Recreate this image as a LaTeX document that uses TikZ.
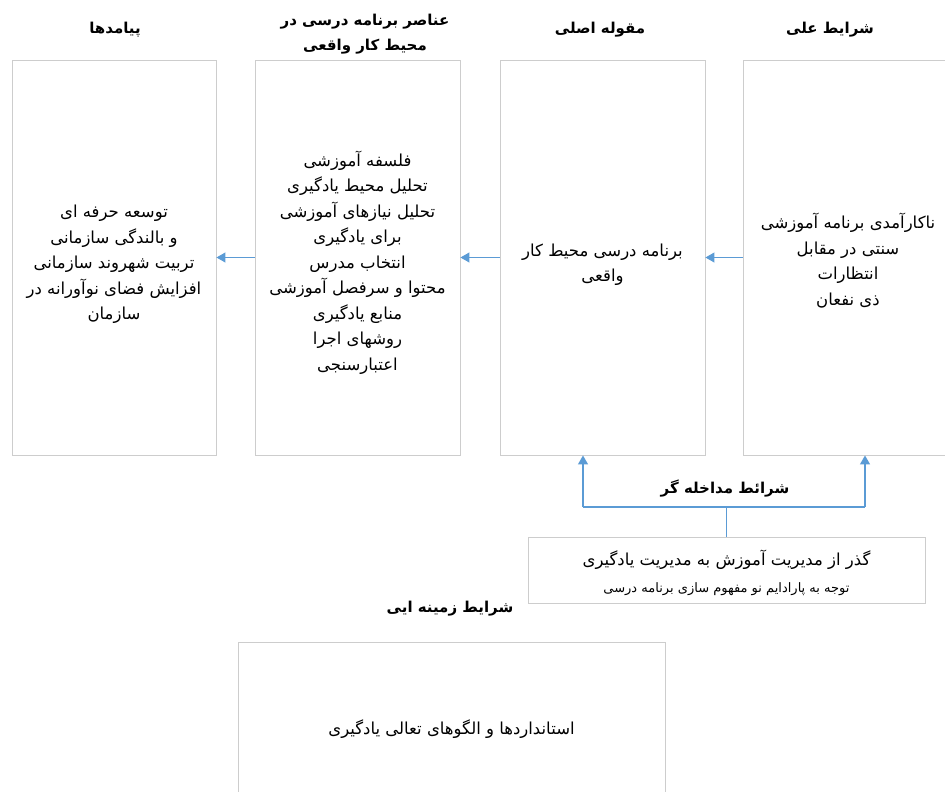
\documentclass[tikz,border=0pt]{standalone}
\usepackage{fontspec}
\usetikzlibrary{arrows.meta}
\TeXXeTstate=1
\newfontfamily\arabicfont[Script=Arabic]{DejaVu Sans}
\newcommand{\fa}[1]{{\arabicfont\beginR #1\endR}}
\definecolor{lineblue}{RGB}{91,155,213}
\definecolor{boxgray}{RGB}{205,205,205}
\tikzset{
  box/.style={draw=boxgray, line width=0.9pt, fill=white, inner sep=0pt},
  boxtext/.style={inner sep=0pt, align=center, font=\arabicfont\fontsize{16.5}{25.5}\selectfont},
  title/.style={font=\arabicfont\bfseries\fontsize{15}{25}\selectfont, align=center, inner sep=0pt},
  conn/.style={draw=lineblue, line width=1.2pt},
  arr/.style={conn, -{Triangle[width=10pt,length=9pt]}},
}
\begin{document}
\begin{tikzpicture}[x=1pt,y=-1pt]
\useasboundingbox (0,0) rectangle (945,792);
% main boxes
\node[box, minimum width=204, minimum height=395] (b1) at (114,257.5) {};
\node[box, minimum width=205, minimum height=395] (b2) at (357.5,257.5) {};
\node[box, minimum width=205, minimum height=395] (b3) at (602.5,257.5) {};
\node[box, minimum width=210, minimum height=395] (b4) at (848,257.5) {};
\node[boxtext] (b1t) at ([yshift=-7pt]b1.center)
  {\fa{توسعه حرفه ای}\\\fa{و بالندگی سازمانی}\\\fa{تربیت شهروند سازمانی}\\\fa{افزایش فضای نوآورانه در}\\\fa{سازمان}};
\node[boxtext] (b2t) at ([yshift=-5pt]b2.center)
  {\fa{فلسفه آموزشی}\\\fa{تحلیل محیط یادگیری}\\\fa{تحلیل نیازهای آموزشی}\\\fa{برای یادگیری}\\\fa{انتخاب مدرس}\\\fa{محتوا و سرفصل آموزشی}\\\fa{منابع یادگیری}\\\fa{روشهای اجرا}\\\fa{اعتبارسنجی}};
\node[boxtext] (b3t) at ([yshift=-7pt]b3.center)
  {\fa{برنامه درسی محیط کار}\\\fa{واقعی}};
\node[boxtext] (b4t) at ([yshift=-3pt]b4.center)
  {\fa{ناکارآمدی برنامه آموزشی}\\\fa{سنتی در مقابل}\\\fa{انتظارات}\\\fa{ذی نفعان}};
% titles
\node[title] (t1) at (115,30) {\fa{پیامدها}};
\node[title] (t2) at (365,34) {\fa{عناصر برنامه درسی در}\\\fa{محیط کار واقعی}};
\node[title] (t3) at (600,30) {\fa{مقوله اصلی}};
\node[title] (t4) at (830,30) {\fa{شرایط علی}};
% horizontal arrows
\draw[arr] (b4.west) -- (b3.east);
\draw[arr] (b3.west) -- (b2.east);
\draw[arr] (b2.west) -- (b1.east);
% intervening conditions
\node[box, minimum width=397, minimum height=66] (low) at (726.5,570) {};
\node[boxtext] (lowt) at ([yshift=-3pt]low.center)
  {\fa{گذر از مدیریت آموزش به مدیریت یادگیری}\\[2pt]{\fontsize{13}{14}\selectfont\fa{توجه به پارادایم نو مفهوم سازی برنامه درسی}}};
\coordinate (jl) at (583,507);
\coordinate (jr) at (865,507);
\draw[conn] (jl) -- (jr);
\draw[arr] (jl) -- (b3.south -| jl);
\draw[arr] (jr) -- (b4.south -| jr);
\draw[conn] (low.north) -- (low.north |- jl);
\node[title] (mid) at (725,489) {\fa{شرائط مداخله گر}};
% contextual conditions
\node[title] (ctx) at (450,609) {\fa{شرایط زمینه ایی}};
\node[box, minimum width=427, minimum height=170] (bot) at (451.5,727) {};
\node[boxtext] (bott) at ([yshift=-2pt]bot.center) {\fa{استانداردها و الگوهای تعالی یادگیری}};
\end{tikzpicture}
\end{document}
